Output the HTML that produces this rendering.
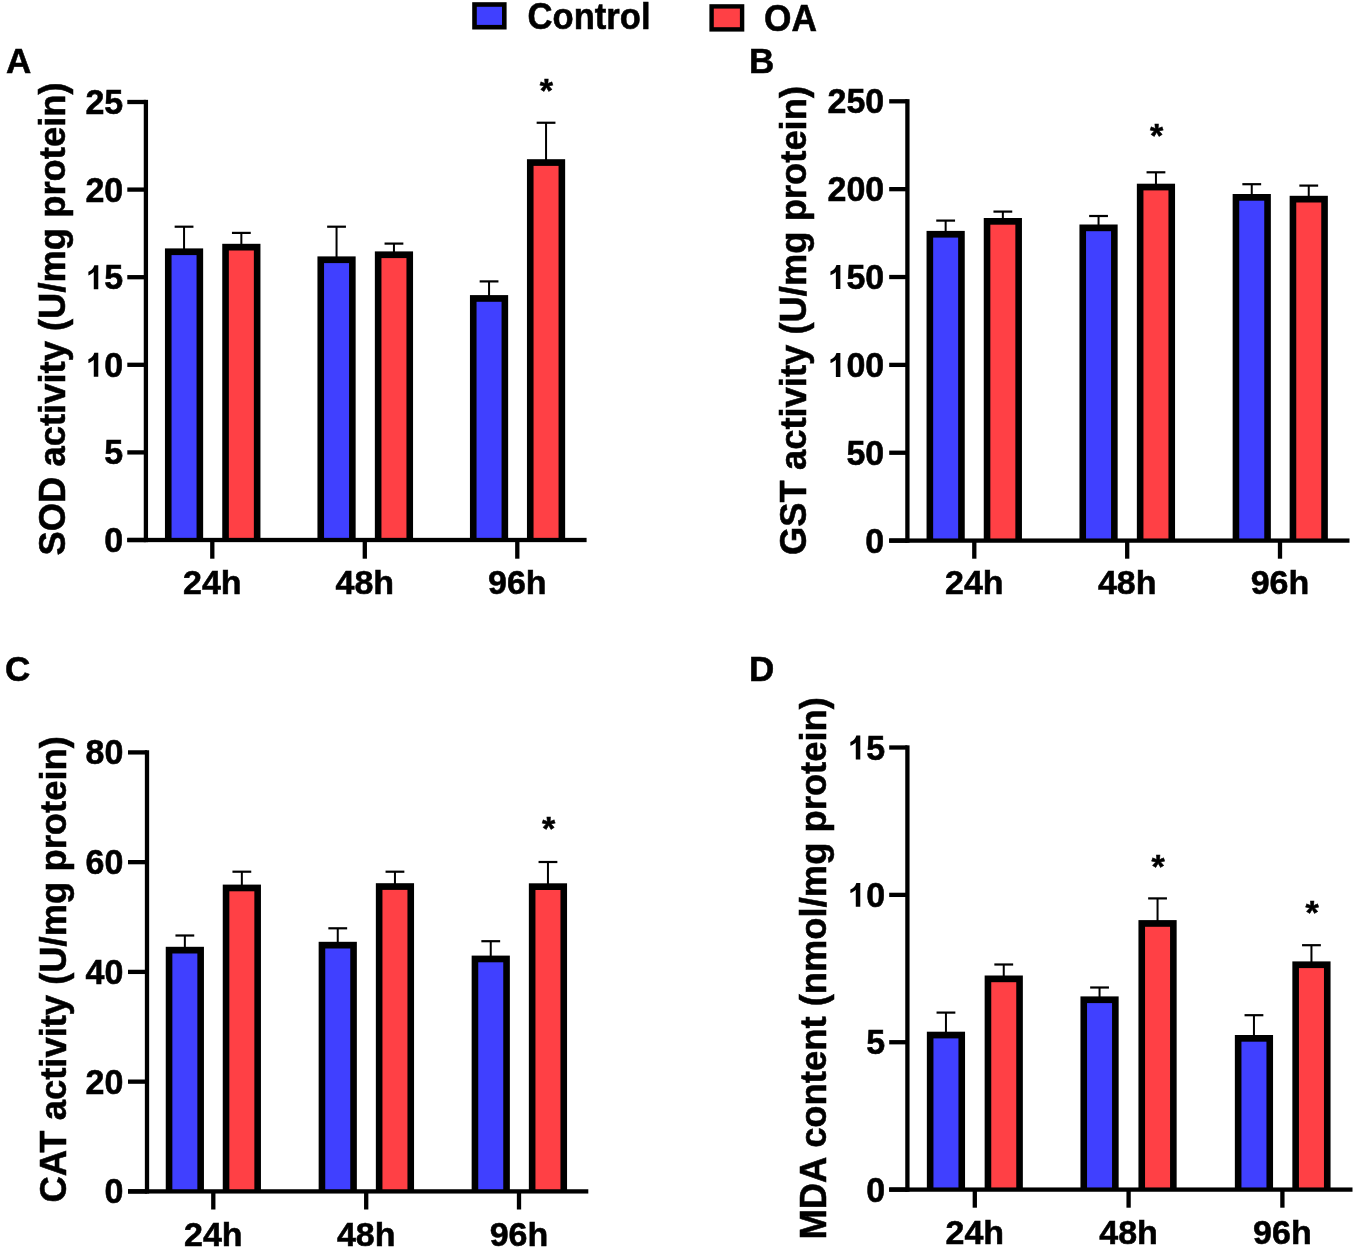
<!DOCTYPE html>
<html><head><meta charset="utf-8"><title>Figure</title>
<style>
html,body{margin:0;padding:0;background:#fff;}
body{width:1355px;height:1249px;overflow:hidden;}
svg{display:block;will-change:transform;}
text{font-family:"Liberation Sans", sans-serif;font-weight:bold;fill:#000;stroke:#000;stroke-width:0.55px;}
path{stroke:#000;stroke-width:0.55px;}
</style></head><body>
<svg width="1355" height="1249" viewBox="0 0 1355 1249">
<rect x="0" y="0" width="1355" height="1249" fill="#fff"/>
<rect x="143.75" y="99.85" width="4.30" height="442.30" fill="#000"/>
<rect x="127.30" y="537.85" width="459.30" height="4.30" fill="#000"/>
<rect x="127.30" y="537.85" width="18.60" height="4.30" fill="#000"/>
<text x="0" y="0" font-size="34" transform="translate(104.29,552.00) scale(1,1.045)">0</text>
<rect x="127.30" y="450.25" width="18.60" height="4.30" fill="#000"/>
<text x="0" y="0" font-size="34" transform="translate(104.29,464.40) scale(1,1.045)">5</text>
<rect x="127.30" y="362.65" width="18.60" height="4.30" fill="#000"/>
<path d="M777,0 L506,0 L506,1030 C430,955 320,880 180,830 L180,1050 C350,1115 470,1230 540,1445 L777,1445 Z" transform="translate(85.38,376.80) scale(0.01660,-0.01660)"/>
<text x="0" y="0" font-size="34" transform="translate(104.29,376.80) scale(1,1.045)">0</text>
<rect x="127.30" y="275.05" width="18.60" height="4.30" fill="#000"/>
<path d="M777,0 L506,0 L506,1030 C430,955 320,880 180,830 L180,1050 C350,1115 470,1230 540,1445 L777,1445 Z" transform="translate(85.38,289.20) scale(0.01660,-0.01660)"/>
<text x="0" y="0" font-size="34" transform="translate(104.29,289.20) scale(1,1.045)">5</text>
<rect x="127.30" y="187.45" width="18.60" height="4.30" fill="#000"/>
<text x="0" y="0" font-size="34" transform="translate(85.38,201.60) scale(1,1.045)">2</text>
<text x="0" y="0" font-size="34" transform="translate(104.29,201.60) scale(1,1.045)">0</text>
<rect x="127.30" y="99.85" width="18.60" height="4.30" fill="#000"/>
<text x="0" y="0" font-size="34" transform="translate(85.38,114.00) scale(1,1.045)">2</text>
<text x="0" y="0" font-size="34" transform="translate(104.29,114.00) scale(1,1.045)">5</text>
<rect x="210.15" y="540.00" width="4.30" height="18.70" fill="#000"/>
<text x="212.30" y="593.80" font-size="34" text-anchor="middle">24h</text>
<rect x="362.65" y="540.00" width="4.30" height="18.70" fill="#000"/>
<text x="364.80" y="593.80" font-size="34" text-anchor="middle">48h</text>
<rect x="515.15" y="540.00" width="4.30" height="18.70" fill="#000"/>
<text x="517.30" y="593.80" font-size="34" text-anchor="middle">96h</text>
<rect x="164.95" y="248.40" width="38.20" height="291.60" fill="#000"/>
<rect x="171.55" y="255.10" width="25.00" height="282.75" fill="#4040ff"/>
<rect x="183.05" y="226.70" width="2.00" height="22.70" fill="#000"/>
<rect x="174.65" y="225.60" width="18.80" height="2.20" fill="#000"/>
<rect x="222.25" y="243.80" width="38.20" height="296.20" fill="#000"/>
<rect x="228.85" y="250.50" width="25.00" height="287.35" fill="#ff4045"/>
<rect x="240.35" y="232.90" width="2.00" height="11.90" fill="#000"/>
<rect x="231.95" y="231.80" width="18.80" height="2.20" fill="#000"/>
<rect x="317.45" y="256.40" width="38.20" height="283.60" fill="#000"/>
<rect x="324.05" y="263.10" width="25.00" height="274.75" fill="#4040ff"/>
<rect x="335.55" y="226.70" width="2.00" height="30.70" fill="#000"/>
<rect x="327.15" y="225.60" width="18.80" height="2.20" fill="#000"/>
<rect x="374.85" y="251.40" width="38.20" height="288.60" fill="#000"/>
<rect x="381.45" y="258.10" width="25.00" height="279.75" fill="#ff4045"/>
<rect x="392.95" y="243.60" width="2.00" height="8.80" fill="#000"/>
<rect x="384.55" y="242.50" width="18.80" height="2.20" fill="#000"/>
<rect x="469.95" y="295.10" width="38.20" height="244.90" fill="#000"/>
<rect x="476.55" y="301.80" width="25.00" height="236.05" fill="#4040ff"/>
<rect x="488.05" y="281.40" width="2.00" height="14.70" fill="#000"/>
<rect x="479.65" y="280.30" width="18.80" height="2.20" fill="#000"/>
<rect x="526.95" y="159.20" width="38.20" height="380.80" fill="#000"/>
<rect x="533.55" y="165.90" width="25.00" height="371.95" fill="#ff4045"/>
<rect x="545.05" y="122.75" width="2.00" height="37.45" fill="#000"/>
<rect x="536.65" y="121.65" width="18.80" height="2.20" fill="#000"/>
<text x="546.30" y="101.59" font-size="34" text-anchor="middle">*</text>
<text x="0.00" y="0.00" font-size="36.4" text-anchor="start" transform="translate(65.40,555.50) rotate(-90)">SOD activity (U/mg protein)</text>
<text x="6.00" y="73.00" font-size="35" text-anchor="start">A</text>
<rect x="905.25" y="99.15" width="4.30" height="443.60" fill="#000"/>
<rect x="889.20" y="538.45" width="460.30" height="4.30" fill="#000"/>
<rect x="889.20" y="538.45" width="18.20" height="4.30" fill="#000"/>
<text x="0" y="0" font-size="34" transform="translate(865.29,552.60) scale(1,1.045)">0</text>
<rect x="889.20" y="450.59" width="18.20" height="4.30" fill="#000"/>
<text x="0" y="0" font-size="34" transform="translate(846.38,464.74) scale(1,1.045)">5</text>
<text x="0" y="0" font-size="34" transform="translate(865.29,464.74) scale(1,1.045)">0</text>
<rect x="889.20" y="362.73" width="18.20" height="4.30" fill="#000"/>
<path d="M777,0 L506,0 L506,1030 C430,955 320,880 180,830 L180,1050 C350,1115 470,1230 540,1445 L777,1445 Z" transform="translate(827.47,376.88) scale(0.01660,-0.01660)"/>
<text x="0" y="0" font-size="34" transform="translate(846.38,376.88) scale(1,1.045)">0</text>
<text x="0" y="0" font-size="34" transform="translate(865.29,376.88) scale(1,1.045)">0</text>
<rect x="889.20" y="274.87" width="18.20" height="4.30" fill="#000"/>
<path d="M777,0 L506,0 L506,1030 C430,955 320,880 180,830 L180,1050 C350,1115 470,1230 540,1445 L777,1445 Z" transform="translate(827.47,289.02) scale(0.01660,-0.01660)"/>
<text x="0" y="0" font-size="34" transform="translate(846.38,289.02) scale(1,1.045)">5</text>
<text x="0" y="0" font-size="34" transform="translate(865.29,289.02) scale(1,1.045)">0</text>
<rect x="889.20" y="187.01" width="18.20" height="4.30" fill="#000"/>
<text x="0" y="0" font-size="34" transform="translate(827.47,201.16) scale(1,1.045)">2</text>
<text x="0" y="0" font-size="34" transform="translate(846.38,201.16) scale(1,1.045)">0</text>
<text x="0" y="0" font-size="34" transform="translate(865.29,201.16) scale(1,1.045)">0</text>
<rect x="889.20" y="99.15" width="18.20" height="4.30" fill="#000"/>
<text x="0" y="0" font-size="34" transform="translate(827.47,113.30) scale(1,1.045)">2</text>
<text x="0" y="0" font-size="34" transform="translate(846.38,113.30) scale(1,1.045)">5</text>
<text x="0" y="0" font-size="34" transform="translate(865.29,113.30) scale(1,1.045)">0</text>
<rect x="972.15" y="540.60" width="4.30" height="18.10" fill="#000"/>
<text x="974.30" y="594.20" font-size="34" text-anchor="middle">24h</text>
<rect x="1125.05" y="540.60" width="4.30" height="18.10" fill="#000"/>
<text x="1127.20" y="594.20" font-size="34" text-anchor="middle">48h</text>
<rect x="1277.85" y="540.60" width="4.30" height="18.10" fill="#000"/>
<text x="1280.00" y="594.20" font-size="34" text-anchor="middle">96h</text>
<rect x="926.55" y="230.90" width="38.20" height="309.70" fill="#000"/>
<rect x="933.15" y="237.60" width="25.00" height="300.85" fill="#4040ff"/>
<rect x="944.65" y="220.60" width="2.00" height="11.30" fill="#000"/>
<rect x="936.25" y="219.50" width="18.80" height="2.20" fill="#000"/>
<rect x="983.75" y="218.00" width="38.20" height="322.60" fill="#000"/>
<rect x="990.35" y="224.70" width="25.00" height="313.75" fill="#ff4045"/>
<rect x="1001.85" y="211.60" width="2.00" height="7.40" fill="#000"/>
<rect x="993.45" y="210.50" width="18.80" height="2.20" fill="#000"/>
<rect x="1079.45" y="224.50" width="38.20" height="316.10" fill="#000"/>
<rect x="1086.05" y="231.20" width="25.00" height="307.25" fill="#4040ff"/>
<rect x="1097.55" y="216.00" width="2.00" height="9.50" fill="#000"/>
<rect x="1089.15" y="214.90" width="18.80" height="2.20" fill="#000"/>
<rect x="1136.85" y="183.70" width="38.20" height="356.90" fill="#000"/>
<rect x="1143.45" y="190.40" width="25.00" height="348.05" fill="#ff4045"/>
<rect x="1154.95" y="172.30" width="2.00" height="12.40" fill="#000"/>
<rect x="1146.55" y="171.20" width="18.80" height="2.20" fill="#000"/>
<rect x="1232.65" y="194.00" width="38.20" height="346.60" fill="#000"/>
<rect x="1239.25" y="200.70" width="25.00" height="337.75" fill="#4040ff"/>
<rect x="1250.75" y="184.20" width="2.00" height="10.80" fill="#000"/>
<rect x="1242.35" y="183.10" width="18.80" height="2.20" fill="#000"/>
<rect x="1289.65" y="195.80" width="38.20" height="344.80" fill="#000"/>
<rect x="1296.25" y="202.50" width="25.00" height="335.95" fill="#ff4045"/>
<rect x="1307.75" y="185.60" width="2.00" height="11.20" fill="#000"/>
<rect x="1299.35" y="184.50" width="18.80" height="2.20" fill="#000"/>
<text x="1156.60" y="146.59" font-size="34" text-anchor="middle">*</text>
<text x="0.00" y="0.00" font-size="36.4" text-anchor="start" transform="translate(806.30,555.00) rotate(-90)">GST activity (U/mg protein)</text>
<text x="749.00" y="72.80" font-size="35" text-anchor="start">B</text>
<rect x="144.85" y="750.25" width="4.30" height="443.30" fill="#000"/>
<rect x="128.00" y="1189.25" width="460.30" height="4.30" fill="#000"/>
<rect x="128.00" y="1189.25" width="19.00" height="4.30" fill="#000"/>
<text x="0" y="0" font-size="34" transform="translate(104.39,1203.40) scale(1,1.045)">0</text>
<rect x="128.00" y="1079.50" width="19.00" height="4.30" fill="#000"/>
<text x="0" y="0" font-size="34" transform="translate(85.48,1093.65) scale(1,1.045)">2</text>
<text x="0" y="0" font-size="34" transform="translate(104.39,1093.65) scale(1,1.045)">0</text>
<rect x="128.00" y="969.75" width="19.00" height="4.30" fill="#000"/>
<text x="0" y="0" font-size="34" transform="translate(85.48,983.90) scale(1,1.045)">4</text>
<text x="0" y="0" font-size="34" transform="translate(104.39,983.90) scale(1,1.045)">0</text>
<rect x="128.00" y="860.00" width="19.00" height="4.30" fill="#000"/>
<text x="0" y="0" font-size="34" transform="translate(85.48,874.15) scale(1,1.045)">6</text>
<text x="0" y="0" font-size="34" transform="translate(104.39,874.15) scale(1,1.045)">0</text>
<rect x="128.00" y="750.25" width="19.00" height="4.30" fill="#000"/>
<text x="0" y="0" font-size="34" transform="translate(85.48,764.40) scale(1,1.045)">8</text>
<text x="0" y="0" font-size="34" transform="translate(104.39,764.40) scale(1,1.045)">0</text>
<rect x="211.15" y="1191.40" width="4.30" height="18.10" fill="#000"/>
<text x="213.30" y="1245.50" font-size="34" text-anchor="middle">24h</text>
<rect x="364.05" y="1191.40" width="4.30" height="18.10" fill="#000"/>
<text x="366.20" y="1245.50" font-size="34" text-anchor="middle">48h</text>
<rect x="516.85" y="1191.40" width="4.30" height="18.10" fill="#000"/>
<text x="519.00" y="1245.50" font-size="34" text-anchor="middle">96h</text>
<rect x="165.75" y="946.80" width="38.20" height="244.60" fill="#000"/>
<rect x="172.35" y="953.50" width="25.00" height="235.75" fill="#4040ff"/>
<rect x="183.85" y="935.50" width="2.00" height="12.30" fill="#000"/>
<rect x="175.45" y="934.40" width="18.80" height="2.20" fill="#000"/>
<rect x="222.75" y="884.60" width="38.20" height="306.80" fill="#000"/>
<rect x="229.35" y="891.30" width="25.00" height="297.95" fill="#ff4045"/>
<rect x="240.85" y="871.70" width="2.00" height="13.90" fill="#000"/>
<rect x="232.45" y="870.60" width="18.80" height="2.20" fill="#000"/>
<rect x="318.65" y="941.80" width="38.20" height="249.60" fill="#000"/>
<rect x="325.25" y="948.50" width="25.00" height="240.75" fill="#4040ff"/>
<rect x="336.75" y="928.30" width="2.00" height="14.50" fill="#000"/>
<rect x="328.35" y="927.20" width="18.80" height="2.20" fill="#000"/>
<rect x="375.85" y="883.20" width="38.20" height="308.20" fill="#000"/>
<rect x="382.45" y="889.90" width="25.00" height="299.35" fill="#ff4045"/>
<rect x="393.95" y="871.70" width="2.00" height="12.50" fill="#000"/>
<rect x="385.55" y="870.60" width="18.80" height="2.20" fill="#000"/>
<rect x="471.65" y="955.60" width="38.20" height="235.80" fill="#000"/>
<rect x="478.25" y="962.30" width="25.00" height="226.95" fill="#4040ff"/>
<rect x="489.75" y="941.20" width="2.00" height="15.40" fill="#000"/>
<rect x="481.35" y="940.10" width="18.80" height="2.20" fill="#000"/>
<rect x="528.85" y="883.30" width="38.20" height="308.10" fill="#000"/>
<rect x="535.45" y="890.00" width="25.00" height="299.25" fill="#ff4045"/>
<rect x="546.95" y="862.00" width="2.00" height="22.30" fill="#000"/>
<rect x="538.55" y="860.90" width="18.80" height="2.20" fill="#000"/>
<text x="548.50" y="839.89" font-size="34" text-anchor="middle">*</text>
<text x="0.00" y="0.00" font-size="36.4" text-anchor="start" transform="translate(65.60,1202.50) rotate(-90)">CAT activity (U/mg protein)</text>
<text x="5.00" y="681.00" font-size="35" text-anchor="start">C</text>
<rect x="905.25" y="745.35" width="4.30" height="446.40" fill="#000"/>
<rect x="889.20" y="1187.45" width="463.30" height="4.30" fill="#000"/>
<rect x="889.20" y="1187.45" width="18.20" height="4.30" fill="#000"/>
<text x="0" y="0" font-size="34" transform="translate(866.29,1201.60) scale(1,1.045)">0</text>
<rect x="889.20" y="1040.08" width="18.20" height="4.30" fill="#000"/>
<text x="0" y="0" font-size="34" transform="translate(866.29,1054.23) scale(1,1.045)">5</text>
<rect x="889.20" y="892.72" width="18.20" height="4.30" fill="#000"/>
<path d="M777,0 L506,0 L506,1030 C430,955 320,880 180,830 L180,1050 C350,1115 470,1230 540,1445 L777,1445 Z" transform="translate(847.38,906.87) scale(0.01660,-0.01660)"/>
<text x="0" y="0" font-size="34" transform="translate(866.29,906.87) scale(1,1.045)">0</text>
<rect x="889.20" y="745.35" width="18.20" height="4.30" fill="#000"/>
<path d="M777,0 L506,0 L506,1030 C430,955 320,880 180,830 L180,1050 C350,1115 470,1230 540,1445 L777,1445 Z" transform="translate(847.38,759.50) scale(0.01660,-0.01660)"/>
<text x="0" y="0" font-size="34" transform="translate(866.29,759.50) scale(1,1.045)">5</text>
<rect x="972.65" y="1189.60" width="4.30" height="18.10" fill="#000"/>
<text x="974.80" y="1243.50" font-size="34" text-anchor="middle">24h</text>
<rect x="1126.45" y="1189.60" width="4.30" height="18.10" fill="#000"/>
<text x="1128.60" y="1243.50" font-size="34" text-anchor="middle">48h</text>
<rect x="1280.25" y="1189.60" width="4.30" height="18.10" fill="#000"/>
<text x="1282.40" y="1243.50" font-size="34" text-anchor="middle">96h</text>
<rect x="926.85" y="1031.70" width="38.20" height="157.90" fill="#000"/>
<rect x="933.45" y="1038.40" width="25.00" height="149.05" fill="#4040ff"/>
<rect x="944.95" y="1012.60" width="2.00" height="20.10" fill="#000"/>
<rect x="936.55" y="1011.50" width="18.80" height="2.20" fill="#000"/>
<rect x="984.65" y="975.50" width="38.20" height="214.10" fill="#000"/>
<rect x="991.25" y="982.20" width="25.00" height="205.25" fill="#ff4045"/>
<rect x="1002.75" y="964.50" width="2.00" height="12.00" fill="#000"/>
<rect x="994.35" y="963.40" width="18.80" height="2.20" fill="#000"/>
<rect x="1080.45" y="996.40" width="38.20" height="193.20" fill="#000"/>
<rect x="1087.05" y="1003.10" width="25.00" height="184.35" fill="#4040ff"/>
<rect x="1098.55" y="987.50" width="2.00" height="9.90" fill="#000"/>
<rect x="1090.15" y="986.40" width="18.80" height="2.20" fill="#000"/>
<rect x="1138.45" y="920.10" width="38.20" height="269.50" fill="#000"/>
<rect x="1145.05" y="926.80" width="25.00" height="260.65" fill="#ff4045"/>
<rect x="1156.55" y="898.40" width="2.00" height="22.70" fill="#000"/>
<rect x="1148.15" y="897.30" width="18.80" height="2.20" fill="#000"/>
<rect x="1234.85" y="1035.00" width="38.20" height="154.60" fill="#000"/>
<rect x="1241.45" y="1041.70" width="25.00" height="145.75" fill="#4040ff"/>
<rect x="1252.95" y="1015.20" width="2.00" height="20.80" fill="#000"/>
<rect x="1244.55" y="1014.10" width="18.80" height="2.20" fill="#000"/>
<rect x="1292.35" y="961.40" width="38.20" height="228.20" fill="#000"/>
<rect x="1298.95" y="968.10" width="25.00" height="219.35" fill="#ff4045"/>
<rect x="1310.45" y="945.20" width="2.00" height="17.20" fill="#000"/>
<rect x="1302.05" y="944.10" width="18.80" height="2.20" fill="#000"/>
<text x="1158.20" y="878.09" font-size="34" text-anchor="middle">*</text>
<text x="1312.10" y="923.99" font-size="34" text-anchor="middle">*</text>
<text x="0.00" y="0.00" font-size="36.4" text-anchor="start" transform="translate(826.10,1239.50) rotate(-90)">MDA content (nmol/mg protein)</text>
<text x="749.00" y="681.30" font-size="35" text-anchor="start">D</text>
<rect x="472.20" y="2.20" width="34.40" height="27.30" fill="#000"/>
<rect x="476.80" y="6.80" width="25.20" height="18.10" fill="#4040ff"/>
<text x="0" y="0" font-size="34.6" text-anchor="start" transform="translate(527.60,29.20) scale(1,1.07)">Control</text>
<rect x="709.40" y="4.20" width="34.90" height="27.40" fill="#000"/>
<rect x="713.80" y="8.60" width="26.10" height="18.60" fill="#ff4045"/>
<text x="0" y="0" font-size="35.3" text-anchor="start" transform="translate(764.00,31.20) scale(1,1.07)">OA</text>
</svg>
</body></html>
